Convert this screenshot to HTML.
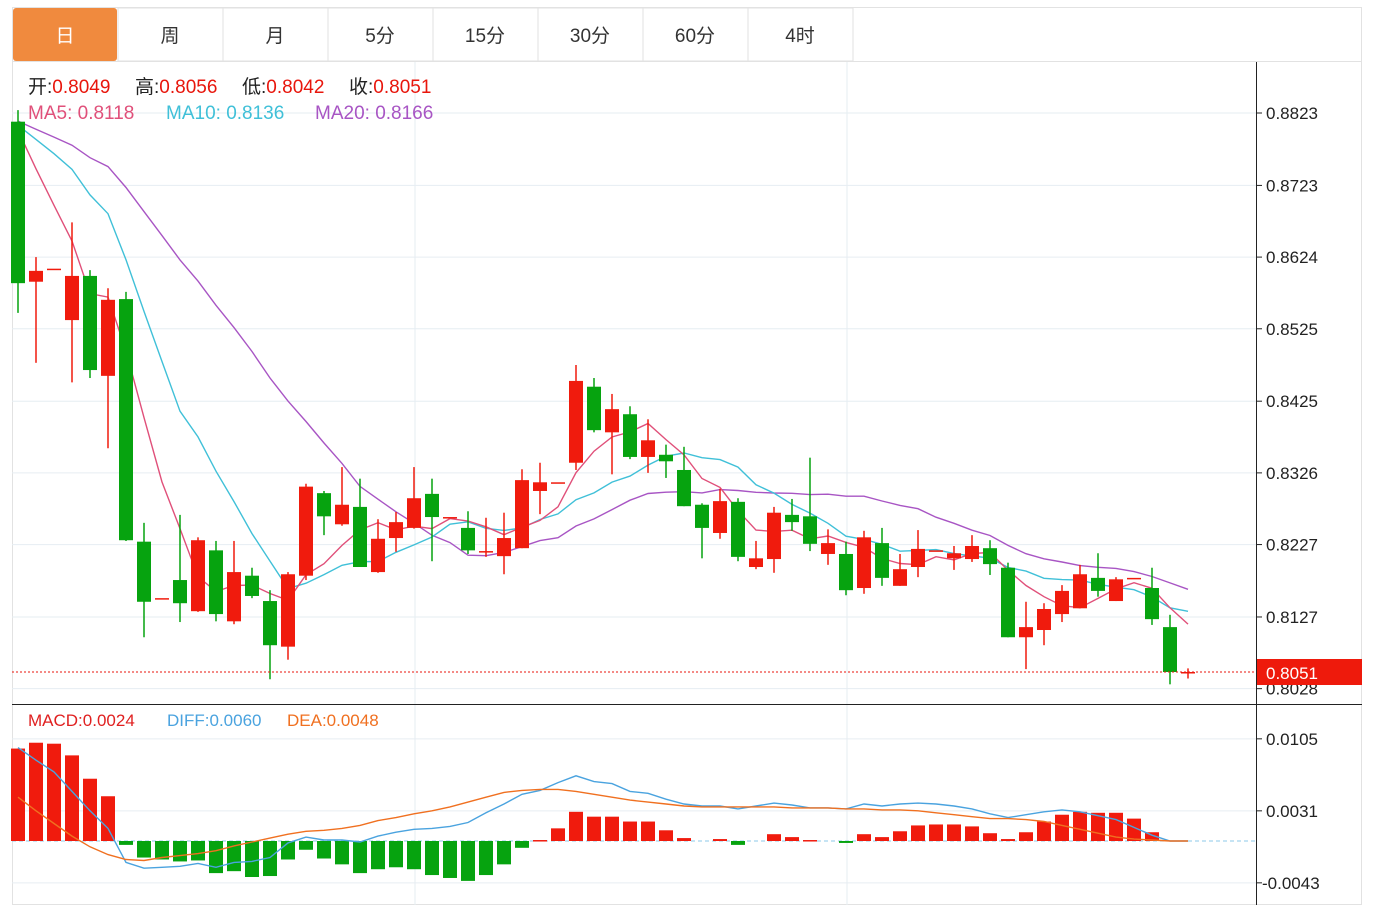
<!DOCTYPE html>
<html><head><meta charset="utf-8">
<style>
body{margin:0;background:#fff;width:1380px;height:906px;overflow:hidden;font-family:"Liberation Sans","Noto Sans CJK SC",sans-serif;}
svg text{font-family:"Liberation Sans","Noto Sans CJK SC",sans-serif;}
</style></head>
<body>
<svg id="chart" width="1380" height="906" xmlns="http://www.w3.org/2000/svg">
<rect x="12.5" y="7.5" width="1349" height="897" fill="#fff" stroke="#e2e2e2"/>
<g id="tabs"></g>
<g id="grid"></g>
<g id="ma"></g>
<g id="candles"></g>
<g id="macd"></g>
<g id="axes"></g>
<g font-size="19">
<text x="28" y="93" fill="#222">开:<tspan fill="#e8160c">0.8049</tspan></text>
<text x="135" y="93" fill="#222">高:<tspan fill="#e8160c">0.8056</tspan></text>
<text x="242" y="93" fill="#222">低:<tspan fill="#e8160c">0.8042</tspan></text>
<text x="349" y="93" fill="#222">收:<tspan fill="#e8160c">0.8051</tspan></text>
</g>
<g font-size="19">
<text x="28" y="119" fill="#e0507a">MA5: 0.8118</text>
<text x="166" y="119" fill="#40c0d8">MA10: 0.8136</text>
<text x="315" y="119" fill="#a855c4">MA20: 0.8166</text>
</g>
<g font-size="17">
<text x="28" y="726" fill="#e02020">MACD:0.0024</text>
<text x="167" y="726" fill="#4aa3df">DIFF:0.0060</text>
<text x="287" y="726" fill="#f07020">DEA:0.0048</text>
</g>
</svg>
<script>
const NS='http://www.w3.org/2000/svg';
const opens =[.8811,.8590,.8608,.8537,.8598,.8460,.8566,.8231,.8153,.8178,.8135,.8219,.8121,.8184,.8149,.8086,.8184,.8298,.8255,.8279,.8189,.8236,.8250,.8297,.8265,.8250,.8218,.8211,.8222,.8301,.8313,.8340,.8445,.8382,.8407,.8348,.8351,.8330,.8282,.8243,.8286,.8196,.8207,.8268,.8266,.8214,.8214,.8167,.8229,.8170,.8196,.8219,.8208,.8207,.8222,.8195,.8099,.8109,.8131,.8139,.8181,.8149,.8181,.8167,.8113,.8049];
const closes=[.8588,.8605,.8608,.8598,.8468,.8565,.8233,.8148,.8153,.8146,.8233,.8131,.8189,.8156,.8088,.8186,.8307,.8266,.8282,.8196,.8235,.8258,.8291,.8265,.8265,.8219,.8218,.8236,.8316,.8313,.8313,.8453,.8385,.8414,.8348,.8371,.8342,.8280,.8250,.8287,.8210,.8208,.8271,.8258,.8228,.8229,.8164,.8237,.8181,.8193,.8221,.8219,.8215,.8225,.8200,.8099,.8113,.8138,.8163,.8186,.8163,.8179,.8181,.8124,.8051,.8051];
const highs =[.8827,.8624,.8608,.8672,.8606,.8581,.8576,.8257,.8153,.8268,.8237,.8232,.8232,.8195,.8164,.8189,.8311,.8301,.8334,.8318,.8262,.8272,.8334,.8318,.8265,.8273,.8264,.8271,.8331,.8340,.8313,.8475,.8457,.8435,.8418,.8400,.8365,.8362,.8284,.8304,.8291,.8232,.8279,.8290,.8347,.8248,.8231,.8246,.8250,.8214,.8247,.8219,.8225,.8240,.8233,.8202,.8148,.8146,.8171,.8199,.8215,.8182,.8181,.8195,.8130,.8056];
const lows  =[.8547,.8478,.8608,.8451,.8457,.8360,.8232,.8099,.8153,.8120,.8134,.8121,.8117,.8153,.8041,.8068,.8178,.8240,.8253,.8196,.8188,.8217,.8249,.8204,.8265,.8214,.8210,.8186,.8222,.8269,.8313,.8330,.8382,.8324,.8345,.8326,.8319,.8280,.8208,.8235,.8204,.8193,.8188,.8246,.8218,.8199,.8157,.8159,.8170,.8170,.8182,.8219,.8192,.8203,.8185,.8099,.8055,.8088,.8120,.8139,.8155,.8149,.8181,.8116,.8034,.8042];
const priorCloses=[.8830,.8825,.8820,.8815,.8810,.8810,.8815,.8815,.8818,.8818,.8800,.8805,.8815,.8820,.8825,.8870,.8860,.8845,.8832];
const macdBars=[.0095,.0101,.0100,.0088,.0064,.0046,-.0004,-.0017,-.0019,-.0021,-.0020,-.0033,-.0031,-.0037,-.0036,-.0019,-.0009,-.0018,-.0024,-.0033,-.0029,-.0027,-.0029,-.0035,-.0038,-.0041,-.0035,-.0024,-.0007,.0001,.0013,.0030,.0025,.0025,.0020,.0020,.0011,.0003,0,.0002,-.0004,0,.0007,.0004,.0001,0,-.0002,.0007,.0004,.0010,.0016,.0017,.0017,.0015,.0008,.0002,.0009,.0020,.0027,.0030,.0029,.0029,.0023,.0009,0,0];
const diffVals=[.0096,.0083,.0071,.0051,.0031,.0013,-.0022,-.0028,-.0027,-.0026,-.0023,-.0027,-.0022,-.0021,-.0017,-.0002,.0004,.0001,.0001,-.0001,.0005,.0009,.0012,.0013,.0015,.0019,.0029,.0038,.0048,.0052,.0060,.0067,.0061,.0059,.0051,.0049,.0043,.0038,.0036,.0036,.0033,.0036,.0039,.0037,.0034,.0034,.0033,.0038,.0036,.0038,.0039,.0038,.0036,.0033,.0028,.0024,.0027,.0030,.0032,.0030,.0026,.0022,.0014,.0006,0,0];
const deaVals=[.0045,.0031,.0018,.0005,-.0006,-.0014,-.0019,-.0020,-.0017,-.0015,-.0013,-.0010,-.0005,-.0001,.0003,.0007,.0010,.0011,.0013,.0016,.0021,.0024,.0028,.0031,.0035,.0040,.0045,.0050,.0052,.0053,.0053,.0051,.0048,.0045,.0042,.0040,.0038,.0036,.0035,.0035,.0035,.0035,.0035,.0034,.0034,.0034,.0033,.0033,.0032,.0032,.0031,.0029,.0027,.0025,.0023,.0023,.0022,.0020,.0016,.0012,.0008,.0004,.0002,.0001,0,0];
const priceTicks=[.8823,.8723,.8624,.8525,.8425,.8326,.8227,.8127,.8028];
const macdTicks=[.0105,.0031,-.0043];
const tabLabels=['日','周','月','5分','15分','30分','60分','4时'];
const lastPrice=.8051;

const xOf=i=>18+18*i;
const yP=p=>113+(0.8823-p)*7241;
const yM=v=>841-v*9730;
const RED='#f01b0d',GREEN='#06a30f';
function el(tag,attrs,parent){const e=document.createElementNS(NS,tag);for(const k in attrs)e.setAttribute(k,attrs[k]);parent.appendChild(e);return e;}

// tabs
const tabs=document.getElementById('tabs');
tabLabels.forEach((t,i)=>{
  const x=13+105*i;
  const r=el('rect',{x:x,y:8,width:i==0?104:105,height:53,fill:i==0?'#f08a3e':'#fff',stroke:i==0?'none':'#e2e2e2',rx:i==0?3:0},tabs);
  
  
  const tx=el('text',{x:x+52,y:42,'text-anchor':'middle','font-size':19,fill:i==0?'#fff':'#333'},tabs);
  tx.textContent=t;
  
  
});
el('line',{x1:12,y1:61.5,x2:1362,y2:61.5,stroke:'#e2e2e2'},tabs);

// grid
const grid=document.getElementById('grid');
priceTicks.forEach(p=>el('line',{x1:12,x2:1256,y1:yP(p),y2:yP(p),stroke:'#e6edf2','stroke-width':1},grid));
macdTicks.forEach(v=>el('line',{x1:12,x2:1256,y1:yM(v),y2:yM(v),stroke:'#e6edf2'},grid));
[415,847].forEach(x=>el('line',{x1:x,x2:x,y1:62,y2:905,stroke:'#e6edf2'},grid));

// MA
const allC=priorCloses.concat(closes);
function ma(n){return closes.map((c,i)=>{const j=i+priorCloses.length;let s=0;for(let k=j-n+1;k<=j;k++)s+=allC[k];return s/n;});}
const maG=document.getElementById('ma');
[[20,'#a855c4'],[10,'#40c0d8'],[5,'#e0507a']].forEach(([n,c])=>{
  const v=ma(n);
  const pl=el('polyline',{points:v.map((m,i)=>xOf(i)+','+yP(m).toFixed(1)).join(' '),fill:'none',stroke:c,'stroke-width':1.4},maG);
  
  
});

// candles
const cg=document.getElementById('candles');
closes.forEach((c,i)=>{
  const o=opens[i],up=c>=o,col=up?RED:GREEN,x=xOf(i);
  const g=el('g',{},cg);
  
  
  el('line',{x1:x,x2:x,y1:yP(highs[i]),y2:yP(lows[i]),stroke:col,'stroke-width':1.5},g);
  const top=yP(Math.max(o,c)),h=Math.max(1.5,Math.abs(yP(o)-yP(c)));
  el('rect',{x:x-7,y:top,width:14,height:h,fill:col},g);
});
// last price dashed line
const lp=el('line',{x1:12,x2:1256,y1:yP(lastPrice),y2:yP(lastPrice),stroke:'#e8160c','stroke-dasharray':'2,2'},cg);



// macd
const mg=document.getElementById('macd');
el('line',{x1:12,x2:1256,y1:yM(0),y2:yM(0),stroke:'#8ec8e8','stroke-dasharray':'4,3'},mg);
macdBars.forEach((v,i)=>{
  if(v===0)return;
  const y0=yM(0),y1=yM(v);
  const r=el('rect',{x:xOf(i)-7,y:Math.min(y0,y1),width:14,height:Math.max(1.5,Math.abs(y1-y0)),fill:v>0?RED:GREEN},mg);
  
  
});
[[diffVals,'#4aa3df','diff-line'],[deaVals,'#f07020','dea-line']].forEach(([arr,c,nm])=>{
  const pl=el('polyline',{points:arr.map((v,i)=>xOf(i)+','+yM(v).toFixed(1)).join(' '),fill:'none',stroke:c,'stroke-width':1.4},mg);
  
  
});

// axes
const ax=document.getElementById('axes');
el('line',{x1:1256.5,x2:1256.5,y1:62,y2:905,stroke:'#222'},ax);
el('line',{x1:12,x2:1362,y1:704.5,y2:704.5,stroke:'#222'},ax);
priceTicks.forEach(p=>{
  el('line',{x1:1256,x2:1262,y1:yP(p),y2:yP(p),stroke:'#222'},ax);
  const t=el('text',{x:1266,y:yP(p)+6,'font-size':17,fill:'#222'},ax);
  t.textContent=p.toFixed(4);
  
  
});
macdTicks.forEach(v=>{
  el('line',{x1:1256,x2:1262,y1:yM(v),y2:yM(v),stroke:'#222'},ax);
  const t=el('text',{x:v<0?1262:1266,y:yM(v)+6,'font-size':17,fill:'#222'},ax);
  t.textContent=v.toFixed(4);
  
  
});
const yl=yP(lastPrice);
const lb=el('rect',{x:1257,y:yl-13,width:105,height:26,fill:'#ee1a0c'},ax);


const lt=el('text',{x:1266,y:yl+7,'font-size':17,fill:'#fff'},ax);
lt.textContent=lastPrice.toFixed(4);


</script>
</body></html>
